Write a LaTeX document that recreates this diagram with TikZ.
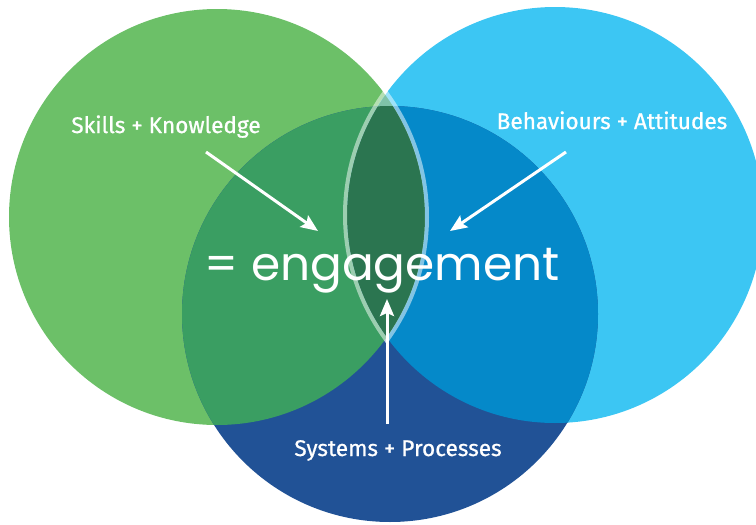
\documentclass[tikz,border=0pt]{standalone}
\usepackage{fontspec}
\setmainfont{Fira Sans}
\newfontfamily\capfont[FakeBold=0.8]{Fira Sans}
\newfontfamily\engfont{Poppins}
\usetikzlibrary{arrows.meta}
\definecolor{cGreen}{HTML}{6CC068}
\definecolor{cSky}{HTML}{3CC6F3}
\definecolor{cNavy}{HTML}{215296}
\definecolor{cGreenNavy}{HTML}{3A9E62}
\definecolor{cSkyNavy}{HTML}{0589C9}
\definecolor{cCore}{HTML}{2B7550}
\definecolor{cLens}{HTML}{7FC3A8}
\begin{document}
\begin{tikzpicture}[x=1pt,y=-1pt,
  caption/.style={text=white, font=\capfont\fontsize{22.6}{26}\selectfont, inner sep=0pt, anchor=base},
  pointer/.style={draw=white, line width=3pt, -{Stealth[length=17pt,width=14pt,inset=3pt]}},
  rim/.style={draw=white, draw opacity=0.5, line width=4pt}]
\useasboundingbox (0,0) rectangle (756,525);
\def\R{208pt}
% circle centres
\coordinate (G) at (217,217);
\coordinate (S) at (555,215);
\coordinate (N) at (390,314);
% the three discs
\fill[cGreen] (G) circle[radius=\R];
\fill[cSky] (S) circle[radius=\R];
\fill[cNavy] (N) circle[radius=\R];
% overlaps with the lower disc
\begin{scope}
  \clip (N) circle[radius=\R];
  \fill[cGreenNavy] (G) circle[radius=\R];
  \fill[cSkyNavy] (S) circle[radius=\R];
\end{scope}
% lens of the two upper discs and the common core
\begin{scope}
  \clip (G) circle[radius=\R];
  \fill[cLens] (S) circle[radius=\R];
  \clip (S) circle[radius=\R];
  \fill[cCore] (N) circle[radius=\R];
\end{scope}
% central word
\node[text=white, font=\engfont\fontsize{47}{53}\selectfont, inner sep=0pt, anchor=base] (eng) at (382,280) {= engagement};
% pale rims around the lens
\begin{scope}
  \clip (G) circle[radius=212pt];
  \draw[rim] (S) circle[radius=210pt];
\end{scope}
\begin{scope}
  \clip (S) circle[radius=212pt];
  \draw[rim] (G) circle[radius=210pt];
\end{scope}
% arrows
\coordinate (skTail) at (206,152);
\coordinate (skTip) at (318,231);
\coordinate (bhTail) at (566,152);
\coordinate (bhTip) at (450,231);
\coordinate (spTail) at (387,424);
\coordinate (spTip) at (387,299);
\draw[pointer] (skTail) -- (skTip);
\draw[pointer] (bhTail) -- (bhTip);
\draw[pointer] (spTail) -- (spTip);
% captions
\node[caption] (skills) at (166,133) {Skills + Knowledge};
\node[caption] (behav) at (612,129) {Behaviours + Attitudes};
\node[caption] (systems) at (398,456) {Systems + Processes};
\end{tikzpicture}
\end{document}
